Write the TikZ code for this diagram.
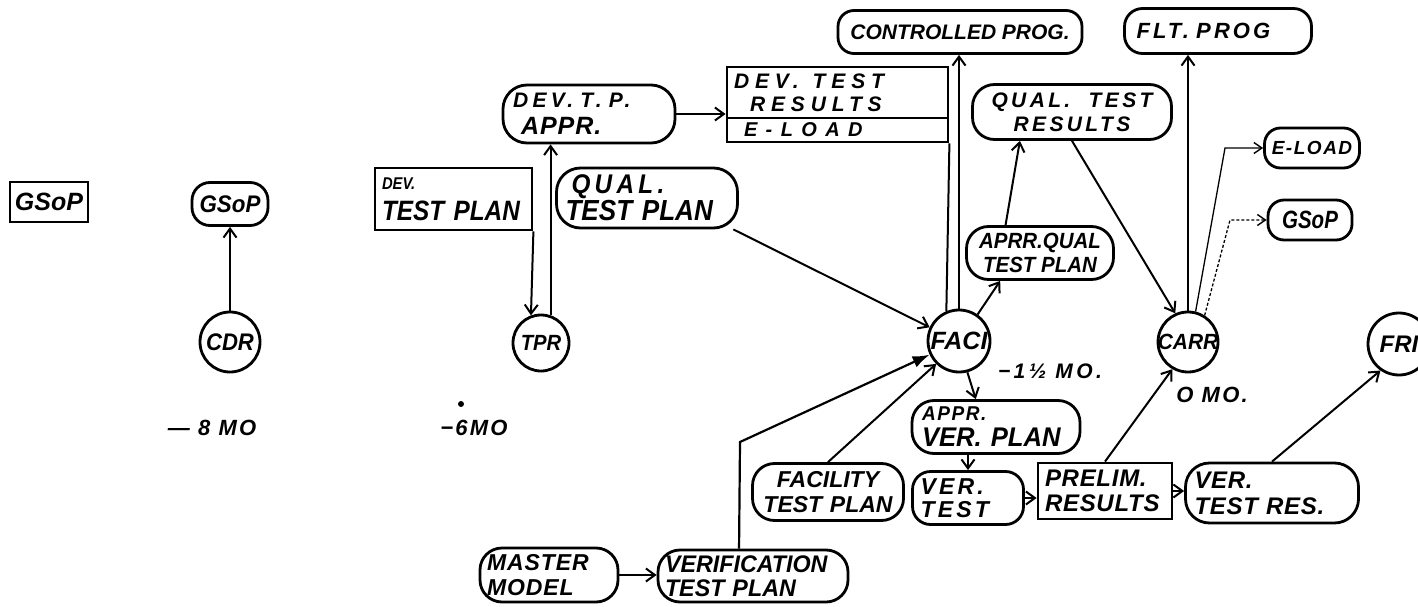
\documentclass[tikz,border=0pt]{standalone}
\usepackage{fontspec}
\setmainfont{Liberation Sans}
\usetikzlibrary{arrows.meta,calc}
\newcommand{\handf}[2]{\bfseries\itshape\fontsize{#1}{#2}\selectfont}
\newcommand{\lsp}[1]{\addfontfeatures{LetterSpace=#1}}
\newcommand{\fst}[1]{\addfontfeatures{FakeStretch=#1}}
\tikzset{
  every node/.style={font=\handf{21}{24}, align=left},
  shp/.style={draw, line width=2.8pt, inner ysep=0pt, inner xsep=8pt},
  rr/.style={shp, rounded corners=18pt},
  sq/.style={shp},
  cir/.style={draw, circle, line width=2.8pt, inner sep=0pt},
  con/.style={line width=2pt, -{Straight Barb[length=9pt,width=13pt,line width=2pt]}},
  thincon/.style={line width=1.3pt, -{Straight Barb[length=8pt,width=11pt,line width=1.4pt]}},
  plain/.style={line width=2pt},
  heavy/.style={line width=2.2pt, -{Latex[length=17pt,width=12pt]}}
}
\begin{document}
\begin{tikzpicture}[x=1pt,y=-1pt]
\path[fill=white,use as bounding box] (0,0) rectangle (1418,607);

% left part
\node[sq, minimum width=78pt, minimum height=40pt, align=center, inner xsep=2pt, font=\handf{25}{27}] (gsopA) at (49,202) {GSoP};
\node[rr, minimum width=76pt, minimum height=43pt, align=center, inner xsep=2pt, font=\handf{24}{26}\fst{0.93}] (gsopB) at (230,204) {GSoP};
\node[cir, minimum size=60pt, font=\handf{24}{26}\fst{0.92}] (cdr) at (230,342) {\makebox[0pt]{CDR}};
\node[font=\handf{22}{24}\lsp{10}] (m8) at (212,428) {— 8 MO};

\node[sq, text width=143pt, inner xsep=7pt, minimum height=62pt, font=\handf{28}{31}\fst{0.87}] (devtp) at (453.5,199) {{\fontsize{17}{31}\selectfont DEV.}\\TEST PLAN};
\node[cir, minimum size=56pt, font=\handf{22}{24}\fst{0.92}] (tpr) at (541,343) {\makebox[0pt]{TPR}};
\node[font=\handf{22}{24}\lsp{10}] (m6) at (474,428) {−6MO};
\fill (461,404) circle (3pt);

\node[rr, rounded corners=24pt, text width=152pt, inner xsep=10pt, minimum height=58pt, font=\handf{21}{27}\lsp{21}] (devappr) at (589,114) {DEV.\ T.\ P.\\{\fontsize{25}{27}\selectfont\lsp{4}\hspace*{8pt}APPR.}};
\node[rr, rounded corners=24pt, text width=163pt, inner xsep=9pt, minimum height=60pt, font=\handf{29}{27}\fst{0.9}] (qualtp) at (647,198) {{\fontsize{27}{27}\selectfont\lsp{16}\hspace*{6pt}QUAL.}\\TEST PLAN};

\node[sq, text width=207pt, inner xsep=7pt, minimum height=51pt, font=\handf{21}{23}\lsp{28}] (devres) at (837.5,92.5) {DEV.\ \ TEST\\\hspace*{16pt}RESULTS};
\node[sq, text width=207pt, inner xsep=7pt, minimum height=24pt, font=\handf{20}{23}\lsp{42}] (eload1) at (837.5,130) {\hspace*{10pt}E-LOAD};

% top right
\node[rr, rounded corners=16pt, minimum width=244pt, minimum height=43pt, align=center, inner xsep=4pt, font=\handf{21}{23}] (ctrl) at (960,32) {CONTROLLED PROG.};
\node[rr, text width=163pt, inner xsep=12pt, minimum height=45pt, font=\handf{22}{25}\lsp{14}] (flt) at (1218,31) {FLT.\ PROG};
\node[rr, rounded corners=22pt, minimum width=199pt, minimum height=55pt, align=center, font=\handf{21}{24}\lsp{16}] (qualres) at (1072,112) {QUAL.\ \ TEST\\RESULTS};
\node[rr, rounded corners=22pt, minimum width=147pt, minimum height=53pt, align=center, inner xsep=4pt, font=\handf{22}{24}\fst{0.93}] (aprr) at (1040,253) {APRR.QUAL\\TEST PLAN};

\node[cir, minimum size=62pt, font=\handf{25}{27}] (faci) at (959,341) {\makebox[0pt]{FACI}};
\node[font=\handf{21}{24}\lsp{16}] (m15) at (1050,371) {−1½ MO.};
\node[cir, minimum size=60pt, font=\handf{22}{24}\fst{0.95}] (carr) at (1188,342) {\makebox[0pt]{CARR}};
\node[font=\handf{22}{24}\lsp{10}] (m0) at (1212,395) {O MO.};
\node[rr, rounded corners=16pt, minimum width=95pt, minimum height=40pt, align=center, inner xsep=2pt, font=\handf{19}{21}\lsp{8}] (eload2) at (1312,148) {E-LOAD};
\node[rr, rounded corners=16pt, minimum width=84pt, minimum height=40pt, align=center, inner xsep=2pt, font=\handf{25}{27}\fst{0.82}] (gsopC) at (1310,220) {GSoP};
\node[cir, minimum size=62pt, font=\handf{24}{26}] (fri) at (1399,344) {\makebox[0pt]{FRI}};

% bottom
\node[rr, rounded corners=22pt, text width=148pt, inner xsep=10pt, minimum height=53pt, font=\handf{27}{26}\fst{0.95}] (apprver) at (996,427) {{\fontsize{20}{26}\selectfont\lsp{8}APPR.}\\VER. PLAN};
\node[rr, text width=95pt, inner xsep=8pt, minimum height=53pt, font=\handf{23}{23}\lsp{14}] (vertest) at (968,498) {VER.\\TEST};
\node[sq, text width=120pt, inner xsep=7pt, minimum height=56pt, font=\handf{24}{25}\lsp{3}] (prelim) at (1105,491) {PRELIM.\\RESULTS};
\node[rr, rounded corners=24pt, text width=155pt, inner xsep=9pt, minimum height=60pt, font=\handf{24}{26}\lsp{3}] (vertres) at (1272,493) {VER.\\TEST RES.};
\node[rr, rounded corners=22pt, text width=147pt, inner xsep=2pt, minimum height=57pt, align=center, font=\handf{23}{25}] (facility) at (828,492) {FACILITY\\TEST PLAN};
\node[rr, rounded corners=22pt, text width=124pt, inner xsep=7pt, minimum height=54pt, font=\handf{23}{25}\lsp{4}] (master) at (549,575) {MASTER\\MODEL};
\node[rr, rounded corners=22pt, text width=176pt, inner xsep=7pt, minimum height=52pt, font=\handf{24}{24}\fst{0.97}] (verif) at (753,576) {VERIFICATION\\TEST PLAN};

\coordinate (b1) at (1225,148);
\coordinate (b2) at (1230,220);
\coordinate (b3) at (740,442);

% connectors
\draw[con] (cdr.north) -- (gsopB.south);
\draw[con] (devtp.south east) -- (tpr.110);
\draw[con] (tpr.71) -- (tpr.71 |- devappr.south);
\draw[con] (devappr.east) -- (devappr.east -| devres.west);
\draw[plain] (eload1.south east) -- (faci.113);
\draw[con] (faci.north) -- (faci.north |- ctrl.south);
\draw[con] (qualtp.-20) -- (faci.155);
\draw[con] (faci.55) -- (aprr.-145);
\draw[con] (aprr.141) -- (qualres.-151);
\draw[con] (qualres.south) -- (carr.114);
\draw[con] (carr.north) -- (carr.north |- flt.south);
\draw[thincon] (carr.76) -- (b1) -- (eload2.west);
\draw[thincon, densely dashed] (carr.58) -- (b2) -- (gsopC.west);
\draw[con] (faci.-75) -- (apprver.126);
\draw[con] (vertest.north |- apprver.south) -- (vertest.north);
\draw[con] (vertest.east) -- (vertest.east -| prelim.west);
\draw[con] (prelim.north) -- (carr.-120);
\draw[con] (prelim.east) -- (prelim.east -| vertres.west);
\draw[con] (vertres.north) -- (fri.-125);
\draw[con] (facility.north) -- (faci.-135);
\draw[con] (master.east) -- (master.east -| verif.west);
\draw[heavy] (verif.117) -- (b3) -- (faci.-155);
\end{tikzpicture}
\end{document}
